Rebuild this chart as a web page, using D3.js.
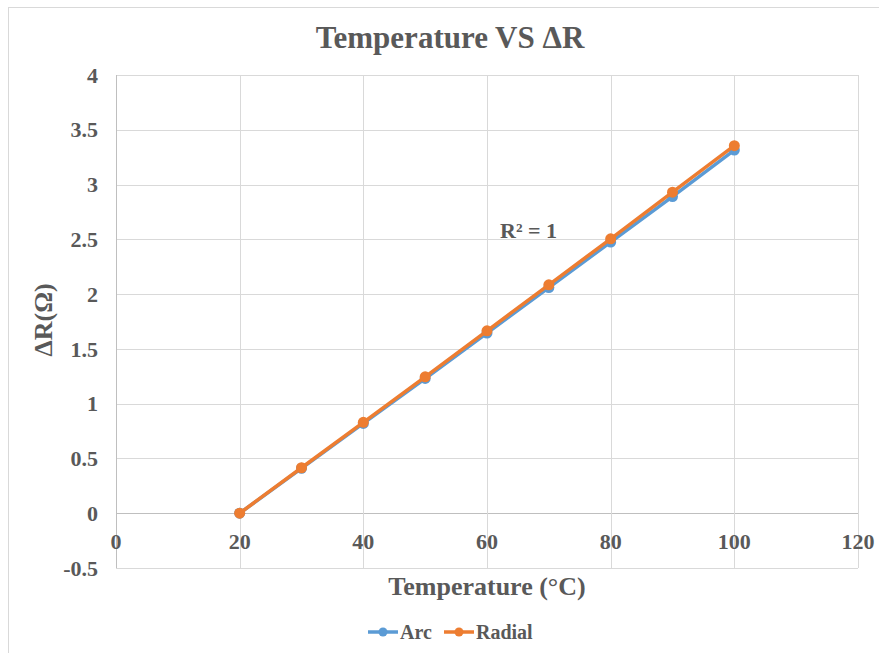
<!DOCTYPE html>
<html>
<head>
<meta charset="utf-8">
<script src="https://cdn.jsdelivr.net/npm/d3@7"></script>
<style>
  html, body { margin: 0; padding: 0; background: #fff; }
  svg { display: block; }
  text { font-family: "Liberation Serif", "Times New Roman", "DejaVu Serif", serif; font-weight: bold; fill: #595959; }
</style>
</head>
<body>
<svg id="chart" width="879" height="653"></svg>
<script>
// Temperature (°C) and change in resistance for two sensor layouts
const temperatures = [20, 30, 40, 50, 60, 70, 80, 90, 100];
const arcValues    = [0, 0.41, 0.82, 1.23, 1.645, 2.06, 2.475, 2.89, 3.315];
const radialValues = [0, 0.415, 0.83, 1.245, 1.665, 2.085, 2.505, 2.93, 3.355];
const xTicks = [0, 20, 40, 60, 80, 100, 120];
const yTicks = [-0.5, 0, 0.5, 1, 1.5, 2, 2.5, 3, 3.5, 4];
const seriesNames = ["Arc", "Radial"];
const seriesColors = ["#5B9BD5", "#ED7D31"];

const svg = d3.select("#chart");
const W = 879, H = 653;

// outer chart frame
svg.append("rect").attr("x", 8.5).attr("y", 7.5).attr("width", W).attr("height", H)
  .attr("fill", "#fff").attr("stroke", "#d9d9d9").attr("stroke-width", 1);

const plot = { left: 116, right: 858, top: 75, bottom: 568 };
const x = d3.scaleLinear().domain([0, 120]).range([plot.left, plot.right]);
const y = d3.scaleLinear().domain([-0.5, 4]).range([plot.bottom, plot.top]);

// gridlines
const grid = svg.append("g");
grid.selectAll("line.h").data(yTicks).join("line")
  .attr("x1", plot.left).attr("x2", plot.right)
  .attr("y1", d => Math.round(y(d)) + 0.5).attr("y2", d => Math.round(y(d)) + 0.5)
  .attr("stroke", d => d === 0 ? "#bfbfbf" : "#d9d9d9").attr("stroke-width", 1);
grid.selectAll("line.v").data(xTicks).join("line")
  .attr("y1", plot.top).attr("y2", plot.bottom)
  .attr("x1", d => Math.round(x(d)) + 0.5).attr("x2", d => Math.round(x(d)) + 0.5)
  .attr("stroke", d => d === 0 ? "#bfbfbf" : "#d9d9d9").attr("stroke-width", 1);

// tick labels (plain hyphen for negatives)
svg.append("g").selectAll("text").data(yTicks).join("text")
  .attr("x", 98).attr("y", d => y(d)).attr("dy", "0.35em")
  .attr("text-anchor", "end").attr("font-size", 22)
  .text(d => String(d));
svg.append("g").selectAll("text").data(xTicks).join("text")
  .attr("x", d => x(d)).attr("y", y(0) + 36)
  .attr("text-anchor", "middle").attr("font-size", 22)
  .text(d => d);

// titles
svg.append("text").attr("x", 450).attr("y", 48).attr("text-anchor", "middle")
  .attr("font-size", 31).text("Temperature VS ΔR");
svg.append("text").attr("x", 487).attr("y", 595).attr("text-anchor", "middle")
  .attr("font-size", 26).text("Temperature (°C)");
svg.append("text").attr("transform", "translate(52,320) rotate(-90)")
  .attr("text-anchor", "middle").attr("font-size", 26).text("ΔR(Ω)");

// series
const series = [arcValues, radialValues];
const line = d3.line().x((d, i) => x(temperatures[i])).y(d => y(d));
series.forEach((vals, k) => {
  const g = svg.append("g");
  g.append("path").datum(vals).attr("d", line)
    .attr("fill", "none").attr("stroke", seriesColors[k]).attr("stroke-width", 3.5)
    .attr("stroke-linejoin", "round").attr("stroke-linecap", "round");
  g.selectAll("circle").data(vals).join("circle")
    .attr("cx", (d, i) => x(temperatures[i])).attr("cy", d => y(d)).attr("r", 5.5)
    .attr("fill", seriesColors[k]);
});

// trendline label
svg.append("text").attr("x", 500).attr("y", 238).attr("font-size", 22).text("R² = 1");

// legend
const legendX = [368, 444];
const legend = svg.append("g");
seriesNames.forEach((name, k) => {
  const lx = legendX[k];
  legend.append("line").attr("x1", lx).attr("x2", lx + 30).attr("y1", 632).attr("y2", 632)
    .attr("stroke", seriesColors[k]).attr("stroke-width", 3.5);
  legend.append("circle").attr("cx", lx + 15).attr("cy", 632).attr("r", 4.5).attr("fill", seriesColors[k]);
  legend.append("text").attr("x", lx + 32).attr("y", 639).attr("font-size", 20).text(name);
});
</script>
</body>
</html>
